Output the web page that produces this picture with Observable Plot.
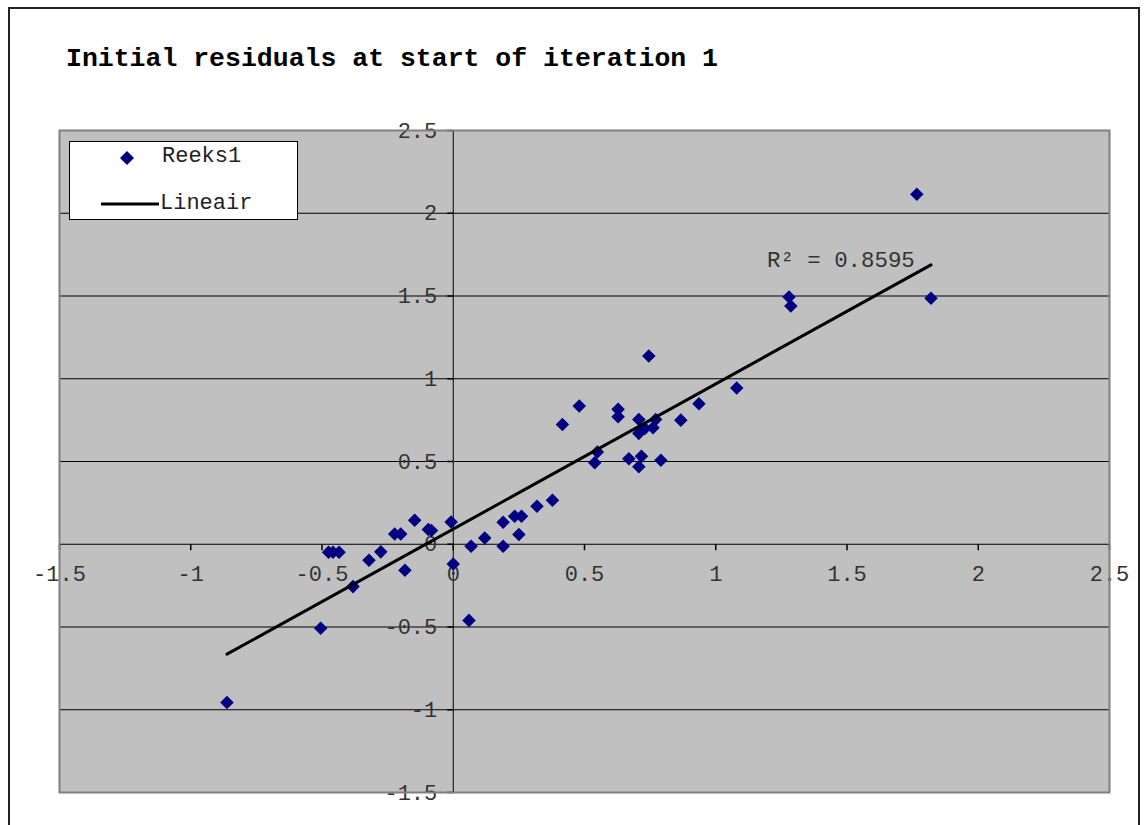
<!DOCTYPE html>
<html><head><meta charset="utf-8">
<script src="https://cdn.jsdelivr.net/npm/d3@7"></script>
<script src="https://cdn.jsdelivr.net/npm/@observablehq/plot@0.6"></script>
<style>
body{margin:0;background:#fff;width:1147px;height:825px;overflow:hidden;position:relative;font-family:"Liberation Mono","Courier New",monospace;}
#frame{position:absolute;left:8px;top:7px;width:1132px;height:850px;border:2px solid #222;box-sizing:border-box;}
#title{position:absolute;left:66px;top:43px;font-weight:bold;font-size:26.5px;line-height:32px;color:#000;white-space:pre;}
#chart{position:absolute;left:0;top:0;}
#legend{position:absolute;left:69px;top:141px;width:229px;height:79px;box-sizing:border-box;background:#fff;border:1px solid #000;}
.ltxt{position:absolute;font-size:22px;line-height:24px;color:#222;white-space:pre;}
#r2{position:absolute;left:767px;top:249px;font-size:22.4px;line-height:24px;color:#333;white-space:pre;}
</style></head>
<body>
<div id="chart"></div>
<div id="frame"></div>
<div id="title">Initial residuals at start of iteration 1</div>
<div id="legend">
  <svg width="229" height="79" style="position:absolute;left:0;top:0">
    <path d="M57,9 L64,16 L57,23 L50,16 Z" fill="#000080"/>
    <line x1="31" y1="62" x2="89" y2="62" stroke="#000" stroke-width="3"/>
  </svg>
  <div class="ltxt" style="left:92px;top:3px">Reeks1</div>
  <div class="ltxt" style="left:90px;top:50px">Lineair</div>
</div>
<div id="r2">R² = 0.8595</div>
<script>
const xs = [-0.862,-0.505,-0.475,-0.458,-0.435,-0.382,-0.321,-0.276,-0.223,-0.200,-0.184,-0.147,-0.095,-0.083,-0.008,0.000,0.060,0.068,0.120,0.190,0.190,0.234,0.260,0.250,0.319,0.378,0.416,0.480,0.539,0.549,0.628,0.628,0.669,0.707,0.707,0.730,0.761,0.771,0.707,0.717,0.745,0.791,0.867,0.936,1.080,1.279,1.286,1.766,1.820];
const ys = [-0.956,-0.508,-0.048,-0.048,-0.048,-0.256,-0.097,-0.046,0.062,0.062,-0.157,0.145,0.089,0.083,0.135,-0.119,-0.460,-0.012,0.038,0.133,-0.012,0.169,0.169,0.059,0.230,0.266,0.724,0.835,0.492,0.557,0.815,0.770,0.516,0.754,0.670,0.700,0.704,0.754,0.468,0.532,1.137,0.508,0.750,0.849,0.944,1.494,1.440,2.115,1.486];
// Excel linear trendline ("Lineair") endpoints
const trendX = [-0.862, 1.820];
const trendY = [-0.664, 1.688];
const xTicks = [-1.5,-1,-0.5,0,0.5,1,1.5,2,2.5];
const yTicks = [-1.5,-1,-0.5,0,0.5,1,1.5,2,2.5];
const xTickLabels = ["-1.5","-1","-0.5","0","0.5","1","1.5","2","2.5"];
const yTickLabels = ["-1.5","-1","-0.5","0","0.5","1","1.5","2","2.5"];

const data = xs.map((x,i)=>({x, y: ys[i]}));
const trend = trendX.map((x,i)=>({x, y: trendY[i]}));
const gridVals = yTicks.filter(v => v !== 0 && v !== yTicks[0] && v !== yTicks[yTicks.length-1]);
const tickDown = {draw(ctx){ ctx.moveTo(0,0); ctx.lineTo(0,6); }};
const tickLeft = {draw(ctx){ ctx.moveTo(0,0); ctx.lineTo(-6,0); }};
const font = "Liberation Mono, Courier New, monospace";

const chart = Plot.plot({
  width: 1147, height: 825,
  marginLeft: 59, marginRight: 38, marginTop: 130, marginBottom: 33,
  x: {domain: [-1.5, 2.5], axis: null},
  y: {domain: [-1.5, 2.5], axis: null},
  style: {background: "transparent", fontFamily: font},
  marks: [
    Plot.frame({fill: "#c0c0c0", stroke: null}),
    Plot.ruleY(gridVals, {y: d => d, stroke: "#000", strokeWidth: 1}),
    Plot.ruleY([0], {stroke: "#000", strokeWidth: 1}),
    Plot.ruleX([0], {stroke: "#000", strokeWidth: 1}),
    Plot.dot(xTicks, {x: d => d, y: () => 0, symbol: tickDown, stroke: "#000", fill: "none", r: 4}),
    Plot.dot(yTicks, {x: () => 0, y: d => d, symbol: tickLeft, stroke: "#000", fill: "none", r: 4}),
    Plot.text(xTicks, {x: d => d, y: () => 0, text: (d,i) => xTickLabels[i], dy: 30, fontSize: 22, fill: "#333", textAnchor: "middle", fontFamily: font}),
    Plot.text(yTicks, {x: () => 0, y: d => d, text: (d,i) => yTickLabels[i], dx: -16, fontSize: 22, fill: "#333", textAnchor: "end", fontFamily: font}),
    Plot.dot(data, {x: "x", y: "y", symbol: "diamond2", r: 6.1, fill: "#000080", stroke: "none"}),
    Plot.line(trend, {x: "x", y: "y", stroke: "#000", strokeWidth: 3}),
    Plot.frame({stroke: "#808080", strokeWidth: 2})
  ]
});
document.getElementById("chart").appendChild(chart);
</script>
</body></html>
